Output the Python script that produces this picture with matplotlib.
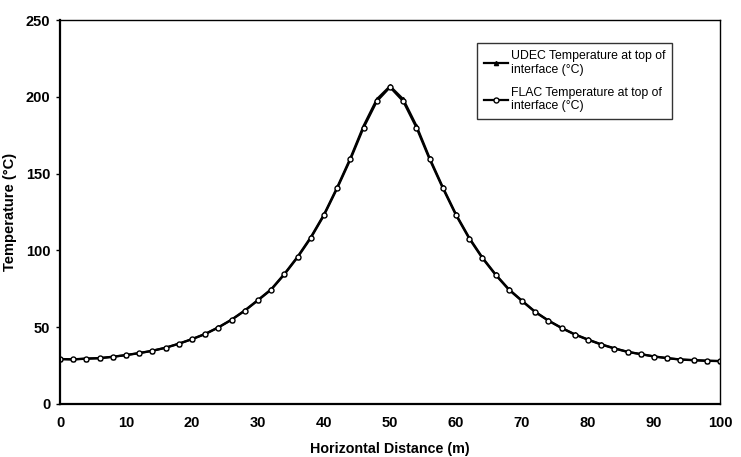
import matplotlib
matplotlib.use("Agg")
import matplotlib.pyplot as plt
import numpy as np

plt.rcParams['font.family'] = ['Liberation Sans', 'DejaVu Sans']

distance = list(range(0, 101, 2))
flac_temp = [29.2, 29.0, 29.5, 29.8, 30.7, 31.8, 33.1, 34.6, 36.6, 39.2,
             42.2, 45.5, 49.8, 54.8, 60.7, 67.5, 74.4, 84.4, 95.5, 108.1,
             122.9, 140.5, 159.3, 180.0, 197.1, 206.3, 197.1, 180.0, 159.3, 140.5,
             122.9, 107.7, 94.9, 84.0, 74.4, 67.0, 59.8, 54.2, 49.4, 45.2,
             41.8, 38.7, 36.1, 33.9, 32.4, 30.9, 29.8, 28.9, 28.5, 28.1, 27.9]
udec_temp = [29.3, 29.1, 29.6, 29.9, 30.8, 31.9, 33.2, 34.7, 36.7, 39.3,
             42.3, 45.7, 50.0, 55.0, 61.0, 67.8, 74.8, 84.8, 96.0, 108.7,
             123.5, 141.2, 160.2, 181.2, 198.5, 207.0, 198.5, 181.2, 160.2, 141.2,
             123.5, 108.3, 95.4, 84.4, 74.8, 67.3, 60.1, 54.4, 49.6, 45.4,
             42.0, 38.9, 36.3, 34.0, 32.5, 31.0, 29.9, 29.0, 28.6, 28.2, 28.0]

fig = plt.figure(figsize=(7.41, 4.57), dpi=100)
ax = fig.add_axes([0.081, 0.116, 0.8907, 0.840])

ax.plot(distance, udec_temp, color='black', lw=1.6, marker='^', ms=3.0,
        mfc='black', mec='black', label='UDEC Temperature at top of\ninterface (°C)')
ax.plot(distance, flac_temp, color='black', lw=1.6, marker='o', ms=3.6,
        mfc='white', mec='black', mew=1.0, label='FLAC Temperature at top of\ninterface (°C)')

ax.set_xlim(0, 100)
ax.set_ylim(0, 250)
ax.set_xticks(np.arange(0, 101, 10))
ax.set_yticks(np.arange(0, 251, 50))
for lab in ax.get_xticklabels() + ax.get_yticklabels():
    lab.set_fontweight('bold')
    lab.set_fontsize(10.5)
ax.tick_params(axis='y', direction='out', length=3, width=1, pad=4)
ax.tick_params(axis='x', length=0, pad=9)

for s in ax.spines.values():
    s.set_linewidth(1.0)
ax.spines['left'].set_linewidth(1.6)
ax.spines['bottom'].set_linewidth(1.6)

ax.set_xlabel('Horizontal Distance (m)', fontweight='bold', fontsize=10.3, labelpad=8)
ax.set_ylabel('Temperature (°C)', fontweight='bold', fontsize=10.5, labelpad=6)

leg = ax.legend(loc='upper left', bbox_to_anchor=(0.632, 0.940), fontsize=8.8,
                frameon=True, fancybox=False, edgecolor='black', handlelength=2.0,
                handletextpad=0.2, borderpad=0.55, labelspacing=0.9, borderaxespad=0)
leg.get_frame().set_linewidth(1.0)

fig.savefig('out.png', dpi=100)
